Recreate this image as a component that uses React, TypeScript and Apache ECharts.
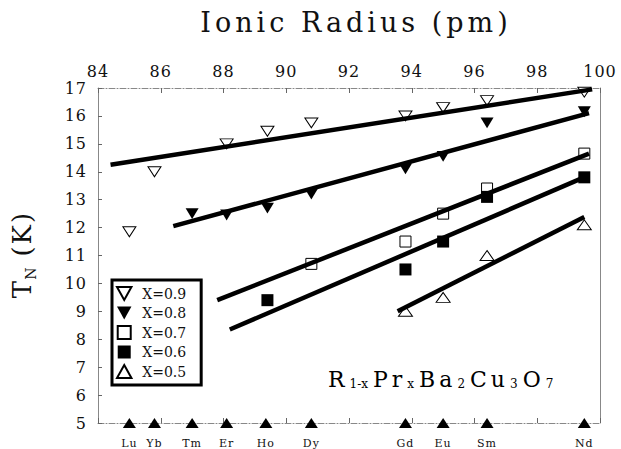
import React, { useEffect, useRef } from "react";
import * as echarts from "echarts";

// Ionic radius (pm) of each rare-earth ion, and its symbol
const elements = ["Lu", "Yb", "Tm", "Er", "Ho", "Dy", "Gd", "Eu", "Sm", "Nd"];
const radii = [85.0, 85.8, 87.0, 88.1, 89.35, 90.8, 93.8, 95.0, 96.4, 99.5];

// Néel temperature T_N (K) for each Pr content x
const x09Radius = [85.0, 85.8, 88.1, 89.4, 90.8, 93.8, 95.0, 96.4, 99.5];
const x09TN = [11.85, 14.0, 15.0, 15.45, 15.75, 16.0, 16.3, 16.55, 16.85];
const x08Radius = [87.0, 88.1, 89.4, 90.8, 93.8, 95.0, 96.4, 99.5];
const x08TN = [12.5, 12.45, 12.7, 13.2, 14.1, 14.55, 15.75, 16.15];
const x07Radius = [90.8, 93.8, 95.0, 96.4, 99.5];
const x07TN = [10.7, 11.5, 12.5, 13.4, 14.65];
const x06Radius = [89.4, 93.8, 95.0, 96.4, 99.5];
const x06TN = [9.4, 10.5, 11.5, 13.1, 13.8];
const x05Radius = [93.8, 95.0, 96.4, 99.5];
const x05TN = [9.0, 9.5, 11.0, 12.1];

// Straight-line guides: [radius, T_N] end points
const fit09 = [[84.4, 14.25], [99.75, 16.95]];
const fit08 = [[86.4, 12.05], [99.65, 16.1]];
const fit07 = [[87.8, 9.4], [99.65, 14.65]];
const fit06 = [[88.2, 8.35], [99.6, 13.85]];
const fit05 = [[93.55, 9.0], [99.5, 12.38]];

const seriesNames = ["X=0.9", "X=0.8", "X=0.7", "X=0.6", "X=0.5"];

const DOWN = "path://M0,0L10,0L5,9Z";
const UP = "path://M5,0L10,9L0,9Z";
const SQUARE = "path://M0,0H10V10H0Z";

const FONT = "DejaVu Serif";

const pairs = (xs: number[], ys: number[]) => xs.map((x, i) => [x, ys[i]]);

// formula pieces: b = full size, s = subscript
const formulaParts: [string, string][] = [
  ["b", "R"], ["s", "1-x"], ["b", "P"], ["b", "r"], ["s", "x"],
  ["b", "B"], ["b", "a"], ["s", "2"], ["b", "C"], ["b", "u"], ["s", "3"],
  ["b", "O"], ["s", "7"],
];

// wide letter spacing for the title (27px), axis name (26px) and tick labels (16px)
const spacingCss = `
#tn-chart text[style*="27px"] { letter-spacing: 4px; }
#tn-chart text[style*="26px"] { letter-spacing: 2px; }
#tn-chart text[style*="16px"] { letter-spacing: 1px; }
#tn-chart text[style*="11px"] { letter-spacing: 1px; }
`;

export default function App() {
  const ref = useRef<HTMLDivElement>(null);

  useEffect(() => {
    if (!ref.current) return;
    const chart = echarts.init(ref.current, undefined, { renderer: "svg" });

    const open = { color: "#fff", borderColor: "#000", borderWidth: 1, opacity: 1 };
    const filled = { color: "#000", borderColor: "#000", borderWidth: 0, opacity: 1 };

    const scatter = (
      name: string,
      data: number[][],
      symbol: string,
      size: number[],
      style: object
    ) => ({
      type: "scatter",
      name,
      data,
      symbol,
      symbolSize: size,
      symbolKeepAspect: true,
      itemStyle: style,
      clip: false,
      z: 3,
    });

    const fitLine = (data: number[][]) => ({
      type: "line",
      data,
      symbol: "none",
      lineStyle: { color: "#000", width: 4.5 },
      z: 4,
      silent: true,
    });

    const axisLineStyle = { color: "#888", width: 1, type: [6, 2, 1, 2] };

    const option = {
      animation: false,
      backgroundColor: "#fff",
      title: {
        text: "Ionic Radius (pm)",
        left: 351,
        top: 4,
        textAlign: "center",
        textStyle: {
          fontFamily: FONT,
          fontSize: 27,
          fontWeight: "normal",
          color: "#111",
        },
      },
      grid: { left: 98, right: 21, top: 88, bottom: 26 },
      legend: {
        data: seriesNames,
        orient: "vertical",
        left: 112,
        top: 280,
        itemWidth: 26,
        itemHeight: 13,
        itemGap: 5,
        padding: [6, 15, 6, 4],
        borderColor: "#000",
        borderWidth: 3,
        borderRadius: 0,
        textStyle: { fontFamily: FONT, fontSize: 14, color: "#111" },
      },
      xAxis: [
        {
          type: "value",
          position: "top",
          min: 84,
          max: 100,
          interval: 2,
          axisLine: { show: true, lineStyle: axisLineStyle },
          axisTick: { show: true, inside: true, length: 5, lineStyle: { color: "#666" } },
          axisLabel: {
            margin: 9,
            fontFamily: FONT,
            fontSize: 16,
            color: "#111",
            showMinLabel: true,
            showMaxLabel: true,
          },
          splitLine: { show: false },
        },
        {
          type: "value",
          position: "bottom",
          min: 84,
          max: 100,
          interval: 2,
          axisLine: { show: true, lineStyle: axisLineStyle },
          axisTick: { show: true, inside: true, length: 5, lineStyle: { color: "#666" } },
          axisLabel: { show: false },
          splitLine: { show: false },
        },
      ],
      yAxis: [
        {
          type: "value",
          min: 5,
          max: 17,
          interval: 1,
          name: "{t|T}{s|N}{g| }{t|(K)}",
          nameLocation: "middle",
          nameRotate: 90,
          nameGap: 60,
          nameTextStyle: {
            rich: {
              t: { fontFamily: FONT, fontSize: 26, color: "#111", lineHeight: 32 },
              g: { fontFamily: FONT, fontSize: 26, color: "#111", lineHeight: 32, width: 14 },
              s: {
                fontFamily: FONT,
                fontSize: 14,
                color: "#111",
                lineHeight: 17,
                verticalAlign: "bottom",
              },
            },
          },
          axisLine: { show: true, lineStyle: { color: "#888", width: 1 } },
          axisTick: { show: true, inside: true, length: 4, lineStyle: { color: "#666" } },
          axisLabel: { margin: 11, fontFamily: FONT, fontSize: 16, color: "#111" },
          splitLine: { show: false },
        },
        {
          type: "value",
          position: "right",
          min: 5,
          max: 17,
          interval: 1,
          axisLine: { show: true, lineStyle: { color: "#888", width: 1 } },
          axisTick: { show: false },
          axisLabel: { show: false },
          splitLine: { show: false },
        },
      ],
      graphic: [
        {
          type: "text",
          left: 326,
          top: 368,
          style: {
            text: formulaParts.map(([k, t]) => `{${k}|${t}}`).join(""),
            rich: {
              b: {
                fontFamily: FONT,
                fontSize: 22,
                color: "#111",
                lineHeight: 26,
                padding: [0, 2, 0, 2],
              },
              s: {
                fontFamily: FONT,
                fontSize: 12,
                color: "#111",
                lineHeight: 14,
                verticalAlign: "bottom",
                padding: [0, 3, 2, 3],
              },
            },
          },
        },
      ],
      series: [
        scatter(seriesNames[0], pairs(x09Radius, x09TN), DOWN, [13, 11], open),
        scatter(seriesNames[1], pairs(x08Radius, x08TN), DOWN, [13, 12], filled),
        scatter(seriesNames[2], pairs(x07Radius, x07TN), SQUARE, [11, 11], open),
        scatter(seriesNames[3], pairs(x06Radius, x06TN), SQUARE, [12, 12], filled),
        scatter(seriesNames[4], pairs(x05Radius, x05TN), UP, [14, 11], open),
        fitLine(fit09),
        fitLine(fit08),
        fitLine(fit07),
        fitLine(fit06),
        fitLine(fit05),
        {
          type: "scatter",
          name: "elements",
          data: radii.map((r, i) => ({ value: [r, 5], name: elements[i] })),
          symbol: UP,
          symbolSize: [13, 11],
          symbolKeepAspect: true,
          itemStyle: filled,
          clip: false,
          z: 5,
          label: {
            show: true,
            position: "bottom",
            distance: 10,
            formatter: (p: any) => p.name,
            fontFamily: FONT,
            fontSize: 11,
            color: "#111",
          },
        },
      ],
    };

    chart.setOption(option as any);
    return () => chart.dispose();
  }, []);

  return (
    <>
      <style>{spacingCss}</style>
      <div
        id="tn-chart"
        ref={ref}
        style={{ position: "absolute", left: 0, top: 0, width: 621, height: 449 }}
      />
    </>
  );
}
